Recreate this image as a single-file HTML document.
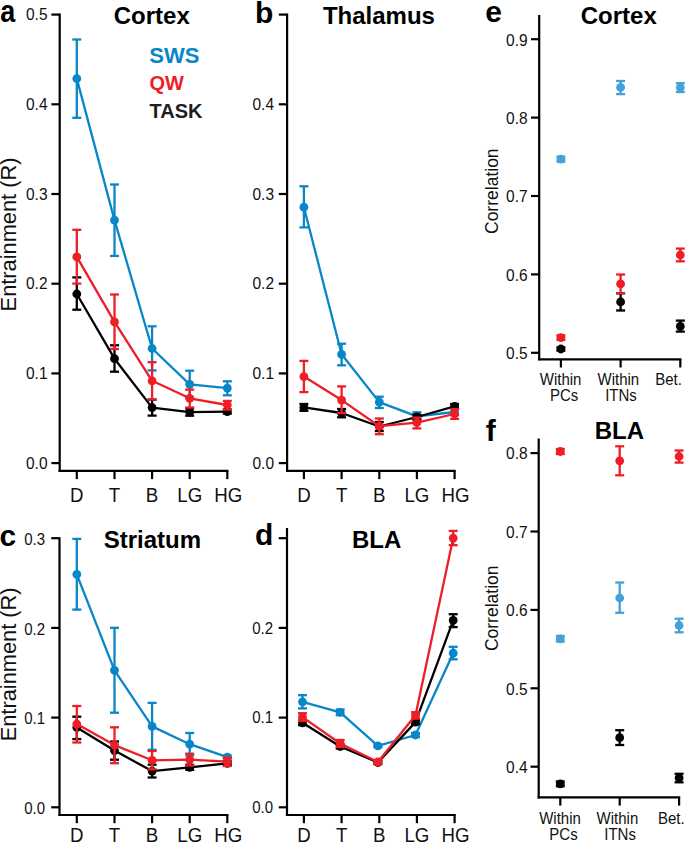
<!DOCTYPE html>
<html><head><meta charset="utf-8"><title>Figure</title>
<style>
html,body{margin:0;padding:0;background:#fff;}
body{width:685px;height:843px;overflow:hidden;}
svg{display:block;font-family:"Liberation Sans", sans-serif;}
</style></head>
<body>
<svg width="685" height="843" viewBox="0 0 685 843">
<rect x="0" y="0" width="685" height="843" fill="#fff"/>
<line x1="59.70" y1="13.60" x2="59.70" y2="471.90" stroke="#000000" stroke-width="2.2" stroke-linecap="butt"/>
<line x1="58.60" y1="470.90" x2="228.40" y2="470.90" stroke="#000000" stroke-width="2.2" stroke-linecap="butt"/>
<line x1="51.40" y1="463.10" x2="59.70" y2="463.10" stroke="#000000" stroke-width="2.2" stroke-linecap="butt"/>
<line x1="51.40" y1="373.40" x2="59.70" y2="373.40" stroke="#000000" stroke-width="2.2" stroke-linecap="butt"/>
<line x1="51.40" y1="283.70" x2="59.70" y2="283.70" stroke="#000000" stroke-width="2.2" stroke-linecap="butt"/>
<line x1="51.40" y1="194.00" x2="59.70" y2="194.00" stroke="#000000" stroke-width="2.2" stroke-linecap="butt"/>
<line x1="51.40" y1="104.30" x2="59.70" y2="104.30" stroke="#000000" stroke-width="2.2" stroke-linecap="butt"/>
<line x1="51.40" y1="14.60" x2="59.70" y2="14.60" stroke="#000000" stroke-width="2.2" stroke-linecap="butt"/>
<line x1="76.80" y1="470.90" x2="76.80" y2="479.10" stroke="#000000" stroke-width="2.2" stroke-linecap="butt"/>
<line x1="114.50" y1="470.90" x2="114.50" y2="479.10" stroke="#000000" stroke-width="2.2" stroke-linecap="butt"/>
<line x1="152.10" y1="470.90" x2="152.10" y2="479.10" stroke="#000000" stroke-width="2.2" stroke-linecap="butt"/>
<line x1="189.70" y1="470.90" x2="189.70" y2="479.10" stroke="#000000" stroke-width="2.2" stroke-linecap="butt"/>
<line x1="227.30" y1="470.90" x2="227.30" y2="479.10" stroke="#000000" stroke-width="2.2" stroke-linecap="butt"/>
<text transform="translate(47.50,468.70) scale(1.0,1.08)" font-size="15.5" font-weight="normal" text-anchor="end" fill="#111111" >0.0</text>
<text transform="translate(47.50,379.00) scale(1.0,1.08)" font-size="15.5" font-weight="normal" text-anchor="end" fill="#111111" >0.1</text>
<text transform="translate(47.50,289.30) scale(1.0,1.08)" font-size="15.5" font-weight="normal" text-anchor="end" fill="#111111" >0.2</text>
<text transform="translate(47.50,199.60) scale(1.0,1.08)" font-size="15.5" font-weight="normal" text-anchor="end" fill="#111111" >0.3</text>
<text transform="translate(47.50,109.90) scale(1.0,1.08)" font-size="15.5" font-weight="normal" text-anchor="end" fill="#111111" >0.4</text>
<text transform="translate(47.50,20.20) scale(1.0,1.08)" font-size="15.5" font-weight="normal" text-anchor="end" fill="#111111" >0.5</text>
<text transform="translate(76.80,502.30) scale(1.0,1.07)" font-size="18.7" font-weight="normal" text-anchor="middle" fill="#111111" >D</text>
<text transform="translate(114.50,502.30) scale(1.0,1.07)" font-size="18.7" font-weight="normal" text-anchor="middle" fill="#111111" >T</text>
<text transform="translate(152.10,502.30) scale(1.0,1.07)" font-size="18.7" font-weight="normal" text-anchor="middle" fill="#111111" >B</text>
<text transform="translate(189.70,502.30) scale(1.0,1.07)" font-size="18.7" font-weight="normal" text-anchor="middle" fill="#111111" >LG</text>
<text transform="translate(228.20,502.30) scale(1.0,1.07)" font-size="18.7" font-weight="normal" text-anchor="middle" fill="#111111" >HG</text>
<line x1="287.10" y1="13.60" x2="287.10" y2="471.90" stroke="#000000" stroke-width="2.2" stroke-linecap="butt"/>
<line x1="286.00" y1="470.90" x2="455.70" y2="470.90" stroke="#000000" stroke-width="2.2" stroke-linecap="butt"/>
<line x1="278.80" y1="463.10" x2="287.10" y2="463.10" stroke="#000000" stroke-width="2.2" stroke-linecap="butt"/>
<line x1="278.80" y1="373.40" x2="287.10" y2="373.40" stroke="#000000" stroke-width="2.2" stroke-linecap="butt"/>
<line x1="278.80" y1="283.70" x2="287.10" y2="283.70" stroke="#000000" stroke-width="2.2" stroke-linecap="butt"/>
<line x1="278.80" y1="194.00" x2="287.10" y2="194.00" stroke="#000000" stroke-width="2.2" stroke-linecap="butt"/>
<line x1="278.80" y1="104.30" x2="287.10" y2="104.30" stroke="#000000" stroke-width="2.2" stroke-linecap="butt"/>
<line x1="278.80" y1="14.60" x2="287.10" y2="14.60" stroke="#000000" stroke-width="2.2" stroke-linecap="butt"/>
<line x1="303.90" y1="470.90" x2="303.90" y2="479.10" stroke="#000000" stroke-width="2.2" stroke-linecap="butt"/>
<line x1="341.60" y1="470.90" x2="341.60" y2="479.10" stroke="#000000" stroke-width="2.2" stroke-linecap="butt"/>
<line x1="379.30" y1="470.90" x2="379.30" y2="479.10" stroke="#000000" stroke-width="2.2" stroke-linecap="butt"/>
<line x1="416.90" y1="470.90" x2="416.90" y2="479.10" stroke="#000000" stroke-width="2.2" stroke-linecap="butt"/>
<line x1="454.60" y1="470.90" x2="454.60" y2="479.10" stroke="#000000" stroke-width="2.2" stroke-linecap="butt"/>
<text transform="translate(274.00,468.70) scale(1.0,1.08)" font-size="15.5" font-weight="normal" text-anchor="end" fill="#111111" >0.0</text>
<text transform="translate(274.00,379.00) scale(1.0,1.08)" font-size="15.5" font-weight="normal" text-anchor="end" fill="#111111" >0.1</text>
<text transform="translate(274.00,289.30) scale(1.0,1.08)" font-size="15.5" font-weight="normal" text-anchor="end" fill="#111111" >0.2</text>
<text transform="translate(274.00,199.60) scale(1.0,1.08)" font-size="15.5" font-weight="normal" text-anchor="end" fill="#111111" >0.3</text>
<text transform="translate(274.00,109.90) scale(1.0,1.08)" font-size="15.5" font-weight="normal" text-anchor="end" fill="#111111" >0.4</text>
<text transform="translate(303.90,502.30) scale(1.0,1.07)" font-size="18.7" font-weight="normal" text-anchor="middle" fill="#111111" >D</text>
<text transform="translate(341.60,502.30) scale(1.0,1.07)" font-size="18.7" font-weight="normal" text-anchor="middle" fill="#111111" >T</text>
<text transform="translate(379.30,502.30) scale(1.0,1.07)" font-size="18.7" font-weight="normal" text-anchor="middle" fill="#111111" >B</text>
<text transform="translate(416.90,502.30) scale(1.0,1.07)" font-size="18.7" font-weight="normal" text-anchor="middle" fill="#111111" >LG</text>
<text transform="translate(455.50,502.30) scale(1.0,1.07)" font-size="18.7" font-weight="normal" text-anchor="middle" fill="#111111" >HG</text>
<line x1="59.50" y1="537.20" x2="59.50" y2="816.00" stroke="#000000" stroke-width="2.2" stroke-linecap="butt"/>
<line x1="58.40" y1="815.00" x2="228.40" y2="815.00" stroke="#000000" stroke-width="2.2" stroke-linecap="butt"/>
<line x1="51.20" y1="807.30" x2="59.50" y2="807.30" stroke="#000000" stroke-width="2.2" stroke-linecap="butt"/>
<line x1="51.20" y1="717.60" x2="59.50" y2="717.60" stroke="#000000" stroke-width="2.2" stroke-linecap="butt"/>
<line x1="51.20" y1="627.90" x2="59.50" y2="627.90" stroke="#000000" stroke-width="2.2" stroke-linecap="butt"/>
<line x1="51.20" y1="538.20" x2="59.50" y2="538.20" stroke="#000000" stroke-width="2.2" stroke-linecap="butt"/>
<line x1="76.80" y1="815.00" x2="76.80" y2="823.20" stroke="#000000" stroke-width="2.2" stroke-linecap="butt"/>
<line x1="114.50" y1="815.00" x2="114.50" y2="823.20" stroke="#000000" stroke-width="2.2" stroke-linecap="butt"/>
<line x1="152.10" y1="815.00" x2="152.10" y2="823.20" stroke="#000000" stroke-width="2.2" stroke-linecap="butt"/>
<line x1="189.70" y1="815.00" x2="189.70" y2="823.20" stroke="#000000" stroke-width="2.2" stroke-linecap="butt"/>
<line x1="227.30" y1="815.00" x2="227.30" y2="823.20" stroke="#000000" stroke-width="2.2" stroke-linecap="butt"/>
<text transform="translate(45.00,813.90) scale(1.0,1.08)" font-size="15.0" font-weight="normal" text-anchor="end" fill="#111111" >0.0</text>
<text transform="translate(45.00,724.20) scale(1.0,1.08)" font-size="15.0" font-weight="normal" text-anchor="end" fill="#111111" >0.1</text>
<text transform="translate(45.00,634.50) scale(1.0,1.08)" font-size="15.0" font-weight="normal" text-anchor="end" fill="#111111" >0.2</text>
<text transform="translate(45.00,544.80) scale(1.0,1.08)" font-size="15.0" font-weight="normal" text-anchor="end" fill="#111111" >0.3</text>
<text transform="translate(76.80,842.20) scale(1.0,1.07)" font-size="18.7" font-weight="normal" text-anchor="middle" fill="#111111" >D</text>
<text transform="translate(114.50,842.20) scale(1.0,1.07)" font-size="18.7" font-weight="normal" text-anchor="middle" fill="#111111" >T</text>
<text transform="translate(152.10,842.20) scale(1.0,1.07)" font-size="18.7" font-weight="normal" text-anchor="middle" fill="#111111" >B</text>
<text transform="translate(189.70,842.20) scale(1.0,1.07)" font-size="18.7" font-weight="normal" text-anchor="middle" fill="#111111" >LG</text>
<text transform="translate(228.20,842.20) scale(1.0,1.07)" font-size="18.7" font-weight="normal" text-anchor="middle" fill="#111111" >HG</text>
<line x1="287.00" y1="528.00" x2="287.00" y2="816.00" stroke="#000000" stroke-width="2.2" stroke-linecap="butt"/>
<line x1="285.90" y1="815.00" x2="455.70" y2="815.00" stroke="#000000" stroke-width="2.2" stroke-linecap="butt"/>
<line x1="278.70" y1="807.30" x2="287.00" y2="807.30" stroke="#000000" stroke-width="2.2" stroke-linecap="butt"/>
<line x1="278.70" y1="717.60" x2="287.00" y2="717.60" stroke="#000000" stroke-width="2.2" stroke-linecap="butt"/>
<line x1="278.70" y1="627.90" x2="287.00" y2="627.90" stroke="#000000" stroke-width="2.2" stroke-linecap="butt"/>
<line x1="278.70" y1="538.20" x2="287.00" y2="538.20" stroke="#000000" stroke-width="2.2" stroke-linecap="butt"/>
<line x1="303.90" y1="815.00" x2="303.90" y2="823.20" stroke="#000000" stroke-width="2.2" stroke-linecap="butt"/>
<line x1="341.60" y1="815.00" x2="341.60" y2="823.20" stroke="#000000" stroke-width="2.2" stroke-linecap="butt"/>
<line x1="379.30" y1="815.00" x2="379.30" y2="823.20" stroke="#000000" stroke-width="2.2" stroke-linecap="butt"/>
<line x1="416.90" y1="815.00" x2="416.90" y2="823.20" stroke="#000000" stroke-width="2.2" stroke-linecap="butt"/>
<line x1="454.60" y1="815.00" x2="454.60" y2="823.20" stroke="#000000" stroke-width="2.2" stroke-linecap="butt"/>
<text transform="translate(273.00,812.90) scale(1.0,1.08)" font-size="15.0" font-weight="normal" text-anchor="end" fill="#111111" >0.0</text>
<text transform="translate(273.00,723.20) scale(1.0,1.08)" font-size="15.0" font-weight="normal" text-anchor="end" fill="#111111" >0.1</text>
<text transform="translate(273.00,633.50) scale(1.0,1.08)" font-size="15.0" font-weight="normal" text-anchor="end" fill="#111111" >0.2</text>
<text transform="translate(303.90,842.20) scale(1.0,1.07)" font-size="18.7" font-weight="normal" text-anchor="middle" fill="#111111" >D</text>
<text transform="translate(341.60,842.20) scale(1.0,1.07)" font-size="18.7" font-weight="normal" text-anchor="middle" fill="#111111" >T</text>
<text transform="translate(379.30,842.20) scale(1.0,1.07)" font-size="18.7" font-weight="normal" text-anchor="middle" fill="#111111" >B</text>
<text transform="translate(416.90,842.20) scale(1.0,1.07)" font-size="18.7" font-weight="normal" text-anchor="middle" fill="#111111" >LG</text>
<text transform="translate(455.50,842.20) scale(1.0,1.07)" font-size="18.7" font-weight="normal" text-anchor="middle" fill="#111111" >HG</text>
<text transform="translate(16.2,311.4) rotate(-90)" font-size="21.8" fill="#111111">Entrainment (R)</text>
<text transform="translate(16.2,741.3) rotate(-90)" font-size="21.8" fill="#111111">Entrainment (R)</text>
<text x="151.80" y="24.00" font-size="24" font-weight="bold" text-anchor="middle" fill="#000000" >Cortex</text>
<text x="378.90" y="24.00" font-size="24" font-weight="bold" text-anchor="middle" fill="#000000" >Thalamus</text>
<text x="152.40" y="548.00" font-size="24" font-weight="bold" text-anchor="middle" fill="#000000" >Striatum</text>
<text x="376.60" y="547.80" font-size="24" font-weight="bold" text-anchor="middle" fill="#000000" >BLA</text>
<text x="618.80" y="24.00" font-size="24" font-weight="bold" text-anchor="middle" fill="#000000" >Cortex</text>
<text x="619.40" y="439.30" font-size="24" font-weight="bold" text-anchor="middle" fill="#000000" >BLA</text>
<text transform="translate(0.20,22.40) scale(0.9,1.04)" font-size="30" font-weight="bold" text-anchor="start" fill="#000000" >a</text>
<text x="255.00" y="22.70" font-size="30" font-weight="bold" text-anchor="start" fill="#000000" >b</text>
<text x="-0.40" y="545.80" font-size="30" font-weight="bold" text-anchor="start" fill="#000000" >c</text>
<text x="255.00" y="545.10" font-size="30" font-weight="bold" text-anchor="start" fill="#000000" >d</text>
<text x="485.30" y="22.40" font-size="30" font-weight="bold" text-anchor="start" fill="#000000" >e</text>
<text x="485.80" y="440.80" font-size="30" font-weight="bold" text-anchor="start" fill="#000000" >f</text>
<text x="149.30" y="63.20" font-size="22" font-weight="bold" text-anchor="start" fill="#0886c8" >SWS</text>
<text x="149.50" y="90.30" font-size="20" font-weight="bold" text-anchor="start" fill="#ed1e26" >QW</text>
<text x="149.50" y="117.60" font-size="20" font-weight="bold" text-anchor="start" fill="#1e1e1e" >TASK</text>
<path d="M76.80,78.60 L114.50,220.10 L152.10,348.50 L189.70,384.30 L227.30,388.10" fill="none" stroke="#0886c8" stroke-width="2.3" stroke-linejoin="round"/>
<line x1="76.80" y1="39.50" x2="76.80" y2="117.80" stroke="#0886c8" stroke-width="2.3" stroke-linecap="butt"/>
<line x1="72.30" y1="39.50" x2="81.30" y2="39.50" stroke="#0886c8" stroke-width="2.3" stroke-linecap="butt"/>
<line x1="72.30" y1="117.80" x2="81.30" y2="117.80" stroke="#0886c8" stroke-width="2.3" stroke-linecap="butt"/>
<circle cx="76.80" cy="78.60" r="4.4" fill="#0886c8"/>
<line x1="114.50" y1="184.50" x2="114.50" y2="255.90" stroke="#0886c8" stroke-width="2.3" stroke-linecap="butt"/>
<line x1="110.00" y1="184.50" x2="119.00" y2="184.50" stroke="#0886c8" stroke-width="2.3" stroke-linecap="butt"/>
<line x1="110.00" y1="255.90" x2="119.00" y2="255.90" stroke="#0886c8" stroke-width="2.3" stroke-linecap="butt"/>
<circle cx="114.50" cy="220.10" r="4.4" fill="#0886c8"/>
<line x1="152.10" y1="326.30" x2="152.10" y2="370.40" stroke="#0886c8" stroke-width="2.3" stroke-linecap="butt"/>
<line x1="147.60" y1="326.30" x2="156.60" y2="326.30" stroke="#0886c8" stroke-width="2.3" stroke-linecap="butt"/>
<line x1="147.60" y1="370.40" x2="156.60" y2="370.40" stroke="#0886c8" stroke-width="2.3" stroke-linecap="butt"/>
<circle cx="152.10" cy="348.50" r="4.4" fill="#0886c8"/>
<line x1="189.70" y1="370.70" x2="189.70" y2="397.90" stroke="#0886c8" stroke-width="2.3" stroke-linecap="butt"/>
<line x1="185.20" y1="370.70" x2="194.20" y2="370.70" stroke="#0886c8" stroke-width="2.3" stroke-linecap="butt"/>
<line x1="185.20" y1="397.90" x2="194.20" y2="397.90" stroke="#0886c8" stroke-width="2.3" stroke-linecap="butt"/>
<circle cx="189.70" cy="384.30" r="4.4" fill="#0886c8"/>
<line x1="227.30" y1="381.30" x2="227.30" y2="395.30" stroke="#0886c8" stroke-width="2.3" stroke-linecap="butt"/>
<line x1="222.80" y1="381.30" x2="231.80" y2="381.30" stroke="#0886c8" stroke-width="2.3" stroke-linecap="butt"/>
<line x1="222.80" y1="395.30" x2="231.80" y2="395.30" stroke="#0886c8" stroke-width="2.3" stroke-linecap="butt"/>
<circle cx="227.30" cy="388.10" r="4.4" fill="#0886c8"/>
<path d="M76.80,294.00 L114.50,358.70 L152.10,407.60 L189.70,412.10 L227.30,411.60" fill="none" stroke="#000000" stroke-width="2.3" stroke-linejoin="round"/>
<line x1="76.80" y1="277.40" x2="76.80" y2="309.70" stroke="#000000" stroke-width="2.3" stroke-linecap="butt"/>
<line x1="72.30" y1="277.40" x2="81.30" y2="277.40" stroke="#000000" stroke-width="2.3" stroke-linecap="butt"/>
<line x1="72.30" y1="309.70" x2="81.30" y2="309.70" stroke="#000000" stroke-width="2.3" stroke-linecap="butt"/>
<circle cx="76.80" cy="294.00" r="4.4" fill="#000000"/>
<line x1="114.50" y1="345.30" x2="114.50" y2="371.70" stroke="#000000" stroke-width="2.3" stroke-linecap="butt"/>
<line x1="110.00" y1="345.30" x2="119.00" y2="345.30" stroke="#000000" stroke-width="2.3" stroke-linecap="butt"/>
<line x1="110.00" y1="371.70" x2="119.00" y2="371.70" stroke="#000000" stroke-width="2.3" stroke-linecap="butt"/>
<circle cx="114.50" cy="358.70" r="4.4" fill="#000000"/>
<line x1="152.10" y1="399.60" x2="152.10" y2="415.60" stroke="#000000" stroke-width="2.3" stroke-linecap="butt"/>
<line x1="147.60" y1="399.60" x2="156.60" y2="399.60" stroke="#000000" stroke-width="2.3" stroke-linecap="butt"/>
<line x1="147.60" y1="415.60" x2="156.60" y2="415.60" stroke="#000000" stroke-width="2.3" stroke-linecap="butt"/>
<circle cx="152.10" cy="407.60" r="4.4" fill="#000000"/>
<line x1="189.70" y1="408.50" x2="189.70" y2="415.70" stroke="#000000" stroke-width="2.3" stroke-linecap="butt"/>
<line x1="185.20" y1="408.50" x2="194.20" y2="408.50" stroke="#000000" stroke-width="2.3" stroke-linecap="butt"/>
<line x1="185.20" y1="415.70" x2="194.20" y2="415.70" stroke="#000000" stroke-width="2.3" stroke-linecap="butt"/>
<circle cx="189.70" cy="412.10" r="4.4" fill="#000000"/>
<line x1="227.30" y1="409.60" x2="227.30" y2="413.60" stroke="#000000" stroke-width="2.3" stroke-linecap="butt"/>
<line x1="222.80" y1="409.60" x2="231.80" y2="409.60" stroke="#000000" stroke-width="2.3" stroke-linecap="butt"/>
<line x1="222.80" y1="413.60" x2="231.80" y2="413.60" stroke="#000000" stroke-width="2.3" stroke-linecap="butt"/>
<circle cx="227.30" cy="411.60" r="4.4" fill="#000000"/>
<path d="M76.80,256.90 L114.50,321.90 L152.10,380.80 L189.70,398.30 L227.30,405.00" fill="none" stroke="#ed1e26" stroke-width="2.3" stroke-linejoin="round"/>
<line x1="76.80" y1="229.80" x2="76.80" y2="283.60" stroke="#ed1e26" stroke-width="2.3" stroke-linecap="butt"/>
<line x1="72.30" y1="229.80" x2="81.30" y2="229.80" stroke="#ed1e26" stroke-width="2.3" stroke-linecap="butt"/>
<line x1="72.30" y1="283.60" x2="81.30" y2="283.60" stroke="#ed1e26" stroke-width="2.3" stroke-linecap="butt"/>
<circle cx="76.80" cy="256.90" r="4.4" fill="#ed1e26"/>
<line x1="114.50" y1="294.50" x2="114.50" y2="349.00" stroke="#ed1e26" stroke-width="2.3" stroke-linecap="butt"/>
<line x1="110.00" y1="294.50" x2="119.00" y2="294.50" stroke="#ed1e26" stroke-width="2.3" stroke-linecap="butt"/>
<line x1="110.00" y1="349.00" x2="119.00" y2="349.00" stroke="#ed1e26" stroke-width="2.3" stroke-linecap="butt"/>
<circle cx="114.50" cy="321.90" r="4.4" fill="#ed1e26"/>
<line x1="152.10" y1="362.20" x2="152.10" y2="399.50" stroke="#ed1e26" stroke-width="2.3" stroke-linecap="butt"/>
<line x1="147.60" y1="362.20" x2="156.60" y2="362.20" stroke="#ed1e26" stroke-width="2.3" stroke-linecap="butt"/>
<line x1="147.60" y1="399.50" x2="156.60" y2="399.50" stroke="#ed1e26" stroke-width="2.3" stroke-linecap="butt"/>
<circle cx="152.10" cy="380.80" r="4.4" fill="#ed1e26"/>
<line x1="189.70" y1="389.60" x2="189.70" y2="407.50" stroke="#ed1e26" stroke-width="2.3" stroke-linecap="butt"/>
<line x1="185.20" y1="389.60" x2="194.20" y2="389.60" stroke="#ed1e26" stroke-width="2.3" stroke-linecap="butt"/>
<line x1="185.20" y1="407.50" x2="194.20" y2="407.50" stroke="#ed1e26" stroke-width="2.3" stroke-linecap="butt"/>
<circle cx="189.70" cy="398.30" r="4.4" fill="#ed1e26"/>
<line x1="227.30" y1="400.90" x2="227.30" y2="409.60" stroke="#ed1e26" stroke-width="2.3" stroke-linecap="butt"/>
<line x1="222.80" y1="400.90" x2="231.80" y2="400.90" stroke="#ed1e26" stroke-width="2.3" stroke-linecap="butt"/>
<line x1="222.80" y1="409.60" x2="231.80" y2="409.60" stroke="#ed1e26" stroke-width="2.3" stroke-linecap="butt"/>
<circle cx="227.30" cy="405.00" r="4.4" fill="#ed1e26"/>
<path d="M303.90,207.20 L341.60,354.30 L379.30,402.10 L416.90,416.30 L454.60,412.00" fill="none" stroke="#0886c8" stroke-width="2.3" stroke-linejoin="round"/>
<line x1="303.90" y1="186.30" x2="303.90" y2="227.40" stroke="#0886c8" stroke-width="2.3" stroke-linecap="butt"/>
<line x1="299.40" y1="186.30" x2="308.40" y2="186.30" stroke="#0886c8" stroke-width="2.3" stroke-linecap="butt"/>
<line x1="299.40" y1="227.40" x2="308.40" y2="227.40" stroke="#0886c8" stroke-width="2.3" stroke-linecap="butt"/>
<circle cx="303.90" cy="207.20" r="4.4" fill="#0886c8"/>
<line x1="341.60" y1="343.70" x2="341.60" y2="365.30" stroke="#0886c8" stroke-width="2.3" stroke-linecap="butt"/>
<line x1="337.10" y1="343.70" x2="346.10" y2="343.70" stroke="#0886c8" stroke-width="2.3" stroke-linecap="butt"/>
<line x1="337.10" y1="365.30" x2="346.10" y2="365.30" stroke="#0886c8" stroke-width="2.3" stroke-linecap="butt"/>
<circle cx="341.60" cy="354.30" r="4.4" fill="#0886c8"/>
<line x1="379.30" y1="396.70" x2="379.30" y2="408.00" stroke="#0886c8" stroke-width="2.3" stroke-linecap="butt"/>
<line x1="374.80" y1="396.70" x2="383.80" y2="396.70" stroke="#0886c8" stroke-width="2.3" stroke-linecap="butt"/>
<line x1="374.80" y1="408.00" x2="383.80" y2="408.00" stroke="#0886c8" stroke-width="2.3" stroke-linecap="butt"/>
<circle cx="379.30" cy="402.10" r="4.4" fill="#0886c8"/>
<line x1="416.90" y1="412.30" x2="416.90" y2="420.30" stroke="#0886c8" stroke-width="2.3" stroke-linecap="butt"/>
<line x1="412.40" y1="412.30" x2="421.40" y2="412.30" stroke="#0886c8" stroke-width="2.3" stroke-linecap="butt"/>
<line x1="412.40" y1="420.30" x2="421.40" y2="420.30" stroke="#0886c8" stroke-width="2.3" stroke-linecap="butt"/>
<circle cx="416.90" cy="416.30" r="4.4" fill="#0886c8"/>
<line x1="454.60" y1="409.00" x2="454.60" y2="415.00" stroke="#0886c8" stroke-width="2.3" stroke-linecap="butt"/>
<line x1="450.10" y1="409.00" x2="459.10" y2="409.00" stroke="#0886c8" stroke-width="2.3" stroke-linecap="butt"/>
<line x1="450.10" y1="415.00" x2="459.10" y2="415.00" stroke="#0886c8" stroke-width="2.3" stroke-linecap="butt"/>
<circle cx="454.60" cy="412.00" r="4.4" fill="#0886c8"/>
<path d="M303.90,407.40 L341.60,413.00 L379.30,426.50 L416.90,417.00 L454.60,406.30" fill="none" stroke="#000000" stroke-width="2.3" stroke-linejoin="round"/>
<line x1="303.90" y1="404.00" x2="303.90" y2="410.80" stroke="#000000" stroke-width="2.3" stroke-linecap="butt"/>
<line x1="299.40" y1="404.00" x2="308.40" y2="404.00" stroke="#000000" stroke-width="2.3" stroke-linecap="butt"/>
<line x1="299.40" y1="410.80" x2="308.40" y2="410.80" stroke="#000000" stroke-width="2.3" stroke-linecap="butt"/>
<circle cx="303.90" cy="407.40" r="4.4" fill="#000000"/>
<line x1="341.60" y1="409.00" x2="341.60" y2="417.30" stroke="#000000" stroke-width="2.3" stroke-linecap="butt"/>
<line x1="337.10" y1="409.00" x2="346.10" y2="409.00" stroke="#000000" stroke-width="2.3" stroke-linecap="butt"/>
<line x1="337.10" y1="417.30" x2="346.10" y2="417.30" stroke="#000000" stroke-width="2.3" stroke-linecap="butt"/>
<circle cx="341.60" cy="413.00" r="4.4" fill="#000000"/>
<line x1="379.30" y1="422.00" x2="379.30" y2="431.00" stroke="#000000" stroke-width="2.3" stroke-linecap="butt"/>
<line x1="374.80" y1="422.00" x2="383.80" y2="422.00" stroke="#000000" stroke-width="2.3" stroke-linecap="butt"/>
<line x1="374.80" y1="431.00" x2="383.80" y2="431.00" stroke="#000000" stroke-width="2.3" stroke-linecap="butt"/>
<circle cx="379.30" cy="426.50" r="4.4" fill="#000000"/>
<line x1="416.90" y1="414.80" x2="416.90" y2="419.20" stroke="#000000" stroke-width="2.3" stroke-linecap="butt"/>
<line x1="412.40" y1="414.80" x2="421.40" y2="414.80" stroke="#000000" stroke-width="2.3" stroke-linecap="butt"/>
<line x1="412.40" y1="419.20" x2="421.40" y2="419.20" stroke="#000000" stroke-width="2.3" stroke-linecap="butt"/>
<circle cx="416.90" cy="417.00" r="4.4" fill="#000000"/>
<line x1="454.60" y1="404.00" x2="454.60" y2="408.60" stroke="#000000" stroke-width="2.3" stroke-linecap="butt"/>
<line x1="450.10" y1="404.00" x2="459.10" y2="404.00" stroke="#000000" stroke-width="2.3" stroke-linecap="butt"/>
<line x1="450.10" y1="408.60" x2="459.10" y2="408.60" stroke="#000000" stroke-width="2.3" stroke-linecap="butt"/>
<circle cx="454.60" cy="406.30" r="4.4" fill="#000000"/>
<path d="M303.90,376.60 L341.60,400.10 L379.30,426.20 L416.90,422.60 L454.60,414.00" fill="none" stroke="#ed1e26" stroke-width="2.3" stroke-linejoin="round"/>
<line x1="303.90" y1="360.90" x2="303.90" y2="392.10" stroke="#ed1e26" stroke-width="2.3" stroke-linecap="butt"/>
<line x1="299.40" y1="360.90" x2="308.40" y2="360.90" stroke="#ed1e26" stroke-width="2.3" stroke-linecap="butt"/>
<line x1="299.40" y1="392.10" x2="308.40" y2="392.10" stroke="#ed1e26" stroke-width="2.3" stroke-linecap="butt"/>
<circle cx="303.90" cy="376.60" r="4.4" fill="#ed1e26"/>
<line x1="341.60" y1="386.40" x2="341.60" y2="413.10" stroke="#ed1e26" stroke-width="2.3" stroke-linecap="butt"/>
<line x1="337.10" y1="386.40" x2="346.10" y2="386.40" stroke="#ed1e26" stroke-width="2.3" stroke-linecap="butt"/>
<line x1="337.10" y1="413.10" x2="346.10" y2="413.10" stroke="#ed1e26" stroke-width="2.3" stroke-linecap="butt"/>
<circle cx="341.60" cy="400.10" r="4.4" fill="#ed1e26"/>
<line x1="379.30" y1="418.50" x2="379.30" y2="434.20" stroke="#ed1e26" stroke-width="2.3" stroke-linecap="butt"/>
<line x1="374.80" y1="418.50" x2="383.80" y2="418.50" stroke="#ed1e26" stroke-width="2.3" stroke-linecap="butt"/>
<line x1="374.80" y1="434.20" x2="383.80" y2="434.20" stroke="#ed1e26" stroke-width="2.3" stroke-linecap="butt"/>
<circle cx="379.30" cy="426.20" r="4.4" fill="#ed1e26"/>
<line x1="416.90" y1="417.60" x2="416.90" y2="428.40" stroke="#ed1e26" stroke-width="2.3" stroke-linecap="butt"/>
<line x1="412.40" y1="417.60" x2="421.40" y2="417.60" stroke="#ed1e26" stroke-width="2.3" stroke-linecap="butt"/>
<line x1="412.40" y1="428.40" x2="421.40" y2="428.40" stroke="#ed1e26" stroke-width="2.3" stroke-linecap="butt"/>
<circle cx="416.90" cy="422.60" r="4.4" fill="#ed1e26"/>
<line x1="454.60" y1="409.10" x2="454.60" y2="418.90" stroke="#ed1e26" stroke-width="2.3" stroke-linecap="butt"/>
<line x1="450.10" y1="409.10" x2="459.10" y2="409.10" stroke="#ed1e26" stroke-width="2.3" stroke-linecap="butt"/>
<line x1="450.10" y1="418.90" x2="459.10" y2="418.90" stroke="#ed1e26" stroke-width="2.3" stroke-linecap="butt"/>
<circle cx="454.60" cy="414.00" r="4.4" fill="#ed1e26"/>
<path d="M76.80,574.30 L114.50,670.30 L152.10,726.40 L189.70,744.20 L227.30,757.10" fill="none" stroke="#0886c8" stroke-width="2.3" stroke-linejoin="round"/>
<line x1="76.80" y1="538.90" x2="76.80" y2="609.60" stroke="#0886c8" stroke-width="2.3" stroke-linecap="butt"/>
<line x1="72.30" y1="538.90" x2="81.30" y2="538.90" stroke="#0886c8" stroke-width="2.3" stroke-linecap="butt"/>
<line x1="72.30" y1="609.60" x2="81.30" y2="609.60" stroke="#0886c8" stroke-width="2.3" stroke-linecap="butt"/>
<circle cx="76.80" cy="574.30" r="4.4" fill="#0886c8"/>
<line x1="114.50" y1="627.80" x2="114.50" y2="712.70" stroke="#0886c8" stroke-width="2.3" stroke-linecap="butt"/>
<line x1="110.00" y1="627.80" x2="119.00" y2="627.80" stroke="#0886c8" stroke-width="2.3" stroke-linecap="butt"/>
<line x1="110.00" y1="712.70" x2="119.00" y2="712.70" stroke="#0886c8" stroke-width="2.3" stroke-linecap="butt"/>
<circle cx="114.50" cy="670.30" r="4.4" fill="#0886c8"/>
<line x1="152.10" y1="702.90" x2="152.10" y2="749.80" stroke="#0886c8" stroke-width="2.3" stroke-linecap="butt"/>
<line x1="147.60" y1="702.90" x2="156.60" y2="702.90" stroke="#0886c8" stroke-width="2.3" stroke-linecap="butt"/>
<line x1="147.60" y1="749.80" x2="156.60" y2="749.80" stroke="#0886c8" stroke-width="2.3" stroke-linecap="butt"/>
<circle cx="152.10" cy="726.40" r="4.4" fill="#0886c8"/>
<line x1="189.70" y1="733.00" x2="189.70" y2="755.40" stroke="#0886c8" stroke-width="2.3" stroke-linecap="butt"/>
<line x1="185.20" y1="733.00" x2="194.20" y2="733.00" stroke="#0886c8" stroke-width="2.3" stroke-linecap="butt"/>
<line x1="185.20" y1="755.40" x2="194.20" y2="755.40" stroke="#0886c8" stroke-width="2.3" stroke-linecap="butt"/>
<circle cx="189.70" cy="744.20" r="4.4" fill="#0886c8"/>
<line x1="227.30" y1="755.60" x2="227.30" y2="758.60" stroke="#0886c8" stroke-width="2.3" stroke-linecap="butt"/>
<line x1="222.80" y1="755.60" x2="231.80" y2="755.60" stroke="#0886c8" stroke-width="2.3" stroke-linecap="butt"/>
<line x1="222.80" y1="758.60" x2="231.80" y2="758.60" stroke="#0886c8" stroke-width="2.3" stroke-linecap="butt"/>
<circle cx="227.30" cy="757.10" r="4.4" fill="#0886c8"/>
<path d="M76.80,727.50 L114.50,750.60 L152.10,771.10 L189.70,767.30 L227.30,763.30" fill="none" stroke="#000000" stroke-width="2.3" stroke-linejoin="round"/>
<line x1="76.80" y1="716.70" x2="76.80" y2="739.10" stroke="#000000" stroke-width="2.3" stroke-linecap="butt"/>
<line x1="72.30" y1="716.70" x2="81.30" y2="716.70" stroke="#000000" stroke-width="2.3" stroke-linecap="butt"/>
<line x1="72.30" y1="739.10" x2="81.30" y2="739.10" stroke="#000000" stroke-width="2.3" stroke-linecap="butt"/>
<circle cx="76.80" cy="727.50" r="4.4" fill="#000000"/>
<line x1="114.50" y1="741.50" x2="114.50" y2="759.70" stroke="#000000" stroke-width="2.3" stroke-linecap="butt"/>
<line x1="110.00" y1="741.50" x2="119.00" y2="741.50" stroke="#000000" stroke-width="2.3" stroke-linecap="butt"/>
<line x1="110.00" y1="759.70" x2="119.00" y2="759.70" stroke="#000000" stroke-width="2.3" stroke-linecap="butt"/>
<circle cx="114.50" cy="750.60" r="4.4" fill="#000000"/>
<line x1="152.10" y1="764.70" x2="152.10" y2="777.50" stroke="#000000" stroke-width="2.3" stroke-linecap="butt"/>
<line x1="147.60" y1="764.70" x2="156.60" y2="764.70" stroke="#000000" stroke-width="2.3" stroke-linecap="butt"/>
<line x1="147.60" y1="777.50" x2="156.60" y2="777.50" stroke="#000000" stroke-width="2.3" stroke-linecap="butt"/>
<circle cx="152.10" cy="771.10" r="4.4" fill="#000000"/>
<line x1="189.70" y1="764.80" x2="189.70" y2="769.80" stroke="#000000" stroke-width="2.3" stroke-linecap="butt"/>
<line x1="185.20" y1="764.80" x2="194.20" y2="764.80" stroke="#000000" stroke-width="2.3" stroke-linecap="butt"/>
<line x1="185.20" y1="769.80" x2="194.20" y2="769.80" stroke="#000000" stroke-width="2.3" stroke-linecap="butt"/>
<circle cx="189.70" cy="767.30" r="4.4" fill="#000000"/>
<line x1="227.30" y1="761.30" x2="227.30" y2="765.30" stroke="#000000" stroke-width="2.3" stroke-linecap="butt"/>
<line x1="222.80" y1="761.30" x2="231.80" y2="761.30" stroke="#000000" stroke-width="2.3" stroke-linecap="butt"/>
<line x1="222.80" y1="765.30" x2="231.80" y2="765.30" stroke="#000000" stroke-width="2.3" stroke-linecap="butt"/>
<circle cx="227.30" cy="763.30" r="4.4" fill="#000000"/>
<path d="M76.80,724.10 L114.50,745.10 L152.10,760.30 L189.70,759.60 L227.30,761.70" fill="none" stroke="#ed1e26" stroke-width="2.3" stroke-linejoin="round"/>
<line x1="76.80" y1="706.00" x2="76.80" y2="742.50" stroke="#ed1e26" stroke-width="2.3" stroke-linecap="butt"/>
<line x1="72.30" y1="706.00" x2="81.30" y2="706.00" stroke="#ed1e26" stroke-width="2.3" stroke-linecap="butt"/>
<line x1="72.30" y1="742.50" x2="81.30" y2="742.50" stroke="#ed1e26" stroke-width="2.3" stroke-linecap="butt"/>
<circle cx="76.80" cy="724.10" r="4.4" fill="#ed1e26"/>
<line x1="114.50" y1="727.30" x2="114.50" y2="763.20" stroke="#ed1e26" stroke-width="2.3" stroke-linecap="butt"/>
<line x1="110.00" y1="727.30" x2="119.00" y2="727.30" stroke="#ed1e26" stroke-width="2.3" stroke-linecap="butt"/>
<line x1="110.00" y1="763.20" x2="119.00" y2="763.20" stroke="#ed1e26" stroke-width="2.3" stroke-linecap="butt"/>
<circle cx="114.50" cy="745.10" r="4.4" fill="#ed1e26"/>
<line x1="152.10" y1="751.00" x2="152.10" y2="769.30" stroke="#ed1e26" stroke-width="2.3" stroke-linecap="butt"/>
<line x1="147.60" y1="751.00" x2="156.60" y2="751.00" stroke="#ed1e26" stroke-width="2.3" stroke-linecap="butt"/>
<line x1="147.60" y1="769.30" x2="156.60" y2="769.30" stroke="#ed1e26" stroke-width="2.3" stroke-linecap="butt"/>
<circle cx="152.10" cy="760.30" r="4.4" fill="#ed1e26"/>
<line x1="189.70" y1="753.70" x2="189.70" y2="765.50" stroke="#ed1e26" stroke-width="2.3" stroke-linecap="butt"/>
<line x1="185.20" y1="753.70" x2="194.20" y2="753.70" stroke="#ed1e26" stroke-width="2.3" stroke-linecap="butt"/>
<line x1="185.20" y1="765.50" x2="194.20" y2="765.50" stroke="#ed1e26" stroke-width="2.3" stroke-linecap="butt"/>
<circle cx="189.70" cy="759.60" r="4.4" fill="#ed1e26"/>
<line x1="227.30" y1="757.50" x2="227.30" y2="766.00" stroke="#ed1e26" stroke-width="2.3" stroke-linecap="butt"/>
<line x1="222.80" y1="757.50" x2="231.80" y2="757.50" stroke="#ed1e26" stroke-width="2.3" stroke-linecap="butt"/>
<line x1="222.80" y1="766.00" x2="231.80" y2="766.00" stroke="#ed1e26" stroke-width="2.3" stroke-linecap="butt"/>
<circle cx="227.30" cy="761.70" r="4.4" fill="#ed1e26"/>
<path d="M302.50,701.80 L340.20,712.30 L377.90,745.90 L415.50,735.00 L453.20,653.20" fill="none" stroke="#0886c8" stroke-width="2.3" stroke-linejoin="round"/>
<line x1="302.50" y1="695.20" x2="302.50" y2="708.40" stroke="#0886c8" stroke-width="2.3" stroke-linecap="butt"/>
<line x1="298.00" y1="695.20" x2="307.00" y2="695.20" stroke="#0886c8" stroke-width="2.3" stroke-linecap="butt"/>
<line x1="298.00" y1="708.40" x2="307.00" y2="708.40" stroke="#0886c8" stroke-width="2.3" stroke-linecap="butt"/>
<circle cx="302.50" cy="701.80" r="4.4" fill="#0886c8"/>
<line x1="340.20" y1="709.50" x2="340.20" y2="715.10" stroke="#0886c8" stroke-width="2.3" stroke-linecap="butt"/>
<line x1="335.70" y1="709.50" x2="344.70" y2="709.50" stroke="#0886c8" stroke-width="2.3" stroke-linecap="butt"/>
<line x1="335.70" y1="715.10" x2="344.70" y2="715.10" stroke="#0886c8" stroke-width="2.3" stroke-linecap="butt"/>
<circle cx="340.20" cy="712.30" r="4.4" fill="#0886c8"/>
<line x1="377.90" y1="744.60" x2="377.90" y2="747.20" stroke="#0886c8" stroke-width="2.3" stroke-linecap="butt"/>
<line x1="373.40" y1="744.60" x2="382.40" y2="744.60" stroke="#0886c8" stroke-width="2.3" stroke-linecap="butt"/>
<line x1="373.40" y1="747.20" x2="382.40" y2="747.20" stroke="#0886c8" stroke-width="2.3" stroke-linecap="butt"/>
<circle cx="377.90" cy="745.90" r="4.4" fill="#0886c8"/>
<line x1="415.50" y1="733.00" x2="415.50" y2="737.00" stroke="#0886c8" stroke-width="2.3" stroke-linecap="butt"/>
<line x1="411.00" y1="733.00" x2="420.00" y2="733.00" stroke="#0886c8" stroke-width="2.3" stroke-linecap="butt"/>
<line x1="411.00" y1="737.00" x2="420.00" y2="737.00" stroke="#0886c8" stroke-width="2.3" stroke-linecap="butt"/>
<circle cx="415.50" cy="735.00" r="4.4" fill="#0886c8"/>
<line x1="453.20" y1="646.80" x2="453.20" y2="659.30" stroke="#0886c8" stroke-width="2.3" stroke-linecap="butt"/>
<line x1="448.70" y1="646.80" x2="457.70" y2="646.80" stroke="#0886c8" stroke-width="2.3" stroke-linecap="butt"/>
<line x1="448.70" y1="659.30" x2="457.70" y2="659.30" stroke="#0886c8" stroke-width="2.3" stroke-linecap="butt"/>
<circle cx="453.20" cy="653.20" r="4.4" fill="#0886c8"/>
<path d="M302.50,722.80 L340.20,746.50 L377.90,762.50 L415.50,722.10 L453.20,620.40" fill="none" stroke="#000000" stroke-width="2.3" stroke-linejoin="round"/>
<line x1="302.50" y1="720.50" x2="302.50" y2="725.10" stroke="#000000" stroke-width="2.3" stroke-linecap="butt"/>
<line x1="298.00" y1="720.50" x2="307.00" y2="720.50" stroke="#000000" stroke-width="2.3" stroke-linecap="butt"/>
<line x1="298.00" y1="725.10" x2="307.00" y2="725.10" stroke="#000000" stroke-width="2.3" stroke-linecap="butt"/>
<circle cx="302.50" cy="722.80" r="4.4" fill="#000000"/>
<line x1="340.20" y1="744.50" x2="340.20" y2="748.50" stroke="#000000" stroke-width="2.3" stroke-linecap="butt"/>
<line x1="335.70" y1="744.50" x2="344.70" y2="744.50" stroke="#000000" stroke-width="2.3" stroke-linecap="butt"/>
<line x1="335.70" y1="748.50" x2="344.70" y2="748.50" stroke="#000000" stroke-width="2.3" stroke-linecap="butt"/>
<circle cx="340.20" cy="746.50" r="4.4" fill="#000000"/>
<line x1="377.90" y1="761.00" x2="377.90" y2="764.00" stroke="#000000" stroke-width="2.3" stroke-linecap="butt"/>
<line x1="373.40" y1="761.00" x2="382.40" y2="761.00" stroke="#000000" stroke-width="2.3" stroke-linecap="butt"/>
<line x1="373.40" y1="764.00" x2="382.40" y2="764.00" stroke="#000000" stroke-width="2.3" stroke-linecap="butt"/>
<circle cx="377.90" cy="762.50" r="4.4" fill="#000000"/>
<line x1="415.50" y1="720.20" x2="415.50" y2="724.00" stroke="#000000" stroke-width="2.3" stroke-linecap="butt"/>
<line x1="411.00" y1="720.20" x2="420.00" y2="720.20" stroke="#000000" stroke-width="2.3" stroke-linecap="butt"/>
<line x1="411.00" y1="724.00" x2="420.00" y2="724.00" stroke="#000000" stroke-width="2.3" stroke-linecap="butt"/>
<circle cx="415.50" cy="722.10" r="4.4" fill="#000000"/>
<line x1="453.20" y1="614.20" x2="453.20" y2="627.10" stroke="#000000" stroke-width="2.3" stroke-linecap="butt"/>
<line x1="448.70" y1="614.20" x2="457.70" y2="614.20" stroke="#000000" stroke-width="2.3" stroke-linecap="butt"/>
<line x1="448.70" y1="627.10" x2="457.70" y2="627.10" stroke="#000000" stroke-width="2.3" stroke-linecap="butt"/>
<circle cx="453.20" cy="620.40" r="4.4" fill="#000000"/>
<path d="M302.50,717.10 L340.20,743.50 L377.90,762.00 L415.50,715.30 L453.20,538.10" fill="none" stroke="#ed1e26" stroke-width="2.3" stroke-linejoin="round"/>
<line x1="302.50" y1="713.20" x2="302.50" y2="721.00" stroke="#ed1e26" stroke-width="2.3" stroke-linecap="butt"/>
<line x1="298.00" y1="713.20" x2="307.00" y2="713.20" stroke="#ed1e26" stroke-width="2.3" stroke-linecap="butt"/>
<line x1="298.00" y1="721.00" x2="307.00" y2="721.00" stroke="#ed1e26" stroke-width="2.3" stroke-linecap="butt"/>
<circle cx="302.50" cy="717.10" r="4.4" fill="#ed1e26"/>
<line x1="340.20" y1="740.00" x2="340.20" y2="747.00" stroke="#ed1e26" stroke-width="2.3" stroke-linecap="butt"/>
<line x1="335.70" y1="740.00" x2="344.70" y2="740.00" stroke="#ed1e26" stroke-width="2.3" stroke-linecap="butt"/>
<line x1="335.70" y1="747.00" x2="344.70" y2="747.00" stroke="#ed1e26" stroke-width="2.3" stroke-linecap="butt"/>
<circle cx="340.20" cy="743.50" r="4.4" fill="#ed1e26"/>
<line x1="377.90" y1="760.00" x2="377.90" y2="764.00" stroke="#ed1e26" stroke-width="2.3" stroke-linecap="butt"/>
<line x1="373.40" y1="760.00" x2="382.40" y2="760.00" stroke="#ed1e26" stroke-width="2.3" stroke-linecap="butt"/>
<line x1="373.40" y1="764.00" x2="382.40" y2="764.00" stroke="#ed1e26" stroke-width="2.3" stroke-linecap="butt"/>
<circle cx="377.90" cy="762.00" r="4.4" fill="#ed1e26"/>
<line x1="415.50" y1="712.20" x2="415.50" y2="718.50" stroke="#ed1e26" stroke-width="2.3" stroke-linecap="butt"/>
<line x1="411.00" y1="712.20" x2="420.00" y2="712.20" stroke="#ed1e26" stroke-width="2.3" stroke-linecap="butt"/>
<line x1="411.00" y1="718.50" x2="420.00" y2="718.50" stroke="#ed1e26" stroke-width="2.3" stroke-linecap="butt"/>
<circle cx="415.50" cy="715.30" r="4.4" fill="#ed1e26"/>
<line x1="453.20" y1="530.90" x2="453.20" y2="545.20" stroke="#ed1e26" stroke-width="2.3" stroke-linecap="butt"/>
<line x1="448.70" y1="530.90" x2="457.70" y2="530.90" stroke="#ed1e26" stroke-width="2.3" stroke-linecap="butt"/>
<line x1="448.70" y1="545.20" x2="457.70" y2="545.20" stroke="#ed1e26" stroke-width="2.3" stroke-linecap="butt"/>
<circle cx="453.20" cy="538.10" r="4.4" fill="#ed1e26"/>
<line x1="539.20" y1="15.00" x2="539.20" y2="360.30" stroke="#000000" stroke-width="2.2" stroke-linecap="butt"/>
<line x1="538.10" y1="359.30" x2="681.40" y2="359.30" stroke="#000000" stroke-width="2.2" stroke-linecap="butt"/>
<line x1="531.00" y1="352.80" x2="539.20" y2="352.80" stroke="#000000" stroke-width="2.2" stroke-linecap="butt"/>
<text transform="translate(527.60,359.10) scale(1.0,1.08)" font-size="15.5" font-weight="normal" text-anchor="end" fill="#111111" >0.5</text>
<line x1="531.00" y1="274.40" x2="539.20" y2="274.40" stroke="#000000" stroke-width="2.2" stroke-linecap="butt"/>
<text transform="translate(527.60,280.70) scale(1.0,1.08)" font-size="15.5" font-weight="normal" text-anchor="end" fill="#111111" >0.6</text>
<line x1="531.00" y1="196.00" x2="539.20" y2="196.00" stroke="#000000" stroke-width="2.2" stroke-linecap="butt"/>
<text transform="translate(527.60,202.30) scale(1.0,1.08)" font-size="15.5" font-weight="normal" text-anchor="end" fill="#111111" >0.7</text>
<line x1="531.00" y1="117.60" x2="539.20" y2="117.60" stroke="#000000" stroke-width="2.2" stroke-linecap="butt"/>
<text transform="translate(527.60,123.90) scale(1.0,1.08)" font-size="15.5" font-weight="normal" text-anchor="end" fill="#111111" >0.8</text>
<line x1="531.00" y1="39.20" x2="539.20" y2="39.20" stroke="#000000" stroke-width="2.2" stroke-linecap="butt"/>
<text transform="translate(527.60,45.50) scale(1.0,1.08)" font-size="15.5" font-weight="normal" text-anchor="end" fill="#111111" >0.9</text>
<line x1="560.90" y1="359.30" x2="560.90" y2="367.50" stroke="#000000" stroke-width="2.2" stroke-linecap="butt"/>
<line x1="620.60" y1="359.30" x2="620.60" y2="367.50" stroke="#000000" stroke-width="2.2" stroke-linecap="butt"/>
<line x1="680.30" y1="359.30" x2="680.30" y2="367.50" stroke="#000000" stroke-width="2.2" stroke-linecap="butt"/>
<text transform="translate(560.60,384.90) scale(1.0,1.06)" font-size="15" font-weight="normal" text-anchor="middle" fill="#111111" >Within</text>
<text transform="translate(564.10,401.40) scale(1.0,1.06)" font-size="15" font-weight="normal" text-anchor="middle" fill="#111111" >PCs</text>
<text transform="translate(618.30,384.90) scale(1.0,1.06)" font-size="15" font-weight="normal" text-anchor="middle" fill="#111111" >Within</text>
<text transform="translate(621.00,401.40) scale(1.0,1.06)" font-size="15" font-weight="normal" text-anchor="middle" fill="#111111" >ITNs</text>
<text transform="translate(655.20,384.90) scale(1.0,1.06)" font-size="15" font-weight="normal" text-anchor="start" fill="#111111" >Bet.</text>
<line x1="538.70" y1="438.50" x2="538.70" y2="798.40" stroke="#000000" stroke-width="2.2" stroke-linecap="butt"/>
<line x1="537.60" y1="797.40" x2="680.20" y2="797.40" stroke="#000000" stroke-width="2.2" stroke-linecap="butt"/>
<line x1="530.50" y1="766.70" x2="538.70" y2="766.70" stroke="#000000" stroke-width="2.2" stroke-linecap="butt"/>
<text transform="translate(527.60,773.00) scale(1.0,1.08)" font-size="15.5" font-weight="normal" text-anchor="end" fill="#111111" >0.4</text>
<line x1="530.50" y1="688.30" x2="538.70" y2="688.30" stroke="#000000" stroke-width="2.2" stroke-linecap="butt"/>
<text transform="translate(527.60,694.60) scale(1.0,1.08)" font-size="15.5" font-weight="normal" text-anchor="end" fill="#111111" >0.5</text>
<line x1="530.50" y1="609.90" x2="538.70" y2="609.90" stroke="#000000" stroke-width="2.2" stroke-linecap="butt"/>
<text transform="translate(527.60,616.20) scale(1.0,1.08)" font-size="15.5" font-weight="normal" text-anchor="end" fill="#111111" >0.6</text>
<line x1="530.50" y1="531.50" x2="538.70" y2="531.50" stroke="#000000" stroke-width="2.2" stroke-linecap="butt"/>
<text transform="translate(527.60,537.80) scale(1.0,1.08)" font-size="15.5" font-weight="normal" text-anchor="end" fill="#111111" >0.7</text>
<line x1="530.50" y1="453.10" x2="538.70" y2="453.10" stroke="#000000" stroke-width="2.2" stroke-linecap="butt"/>
<text transform="translate(527.60,459.40) scale(1.0,1.08)" font-size="15.5" font-weight="normal" text-anchor="end" fill="#111111" >0.8</text>
<line x1="560.30" y1="797.40" x2="560.30" y2="805.60" stroke="#000000" stroke-width="2.2" stroke-linecap="butt"/>
<line x1="619.70" y1="797.40" x2="619.70" y2="805.60" stroke="#000000" stroke-width="2.2" stroke-linecap="butt"/>
<line x1="679.10" y1="797.40" x2="679.10" y2="805.60" stroke="#000000" stroke-width="2.2" stroke-linecap="butt"/>
<text transform="translate(560.00,823.90) scale(1.0,1.06)" font-size="15" font-weight="normal" text-anchor="middle" fill="#111111" >Within</text>
<text transform="translate(563.50,840.40) scale(1.0,1.06)" font-size="15" font-weight="normal" text-anchor="middle" fill="#111111" >PCs</text>
<text transform="translate(617.40,823.90) scale(1.0,1.06)" font-size="15" font-weight="normal" text-anchor="middle" fill="#111111" >Within</text>
<text transform="translate(620.10,840.40) scale(1.0,1.06)" font-size="15" font-weight="normal" text-anchor="middle" fill="#111111" >ITNs</text>
<text transform="translate(657.90,823.90) scale(1.0,1.06)" font-size="15" font-weight="normal" text-anchor="start" fill="#111111" >Bet.</text>
<text transform="translate(498.2,234.0) rotate(-90)" font-size="17.5" fill="#111111">Correlation</text>
<text transform="translate(498.0,651.1) rotate(-90)" font-size="17.5" fill="#111111">Correlation</text>
<line x1="560.90" y1="156.60" x2="560.90" y2="161.60" stroke="#44a2d8" stroke-width="2.3" stroke-linecap="butt"/>
<line x1="556.40" y1="156.60" x2="565.40" y2="156.60" stroke="#44a2d8" stroke-width="2.3" stroke-linecap="butt"/>
<line x1="556.40" y1="161.60" x2="565.40" y2="161.60" stroke="#44a2d8" stroke-width="2.3" stroke-linecap="butt"/>
<circle cx="560.90" cy="159.10" r="4.4" fill="#44a2d8"/>
<line x1="620.60" y1="81.00" x2="620.60" y2="94.10" stroke="#44a2d8" stroke-width="2.3" stroke-linecap="butt"/>
<line x1="616.10" y1="81.00" x2="625.10" y2="81.00" stroke="#44a2d8" stroke-width="2.3" stroke-linecap="butt"/>
<line x1="616.10" y1="94.10" x2="625.10" y2="94.10" stroke="#44a2d8" stroke-width="2.3" stroke-linecap="butt"/>
<circle cx="620.60" cy="87.40" r="4.4" fill="#44a2d8"/>
<line x1="680.30" y1="83.20" x2="680.30" y2="92.00" stroke="#44a2d8" stroke-width="2.3" stroke-linecap="butt"/>
<line x1="675.80" y1="83.20" x2="684.80" y2="83.20" stroke="#44a2d8" stroke-width="2.3" stroke-linecap="butt"/>
<line x1="675.80" y1="92.00" x2="684.80" y2="92.00" stroke="#44a2d8" stroke-width="2.3" stroke-linecap="butt"/>
<circle cx="680.30" cy="87.50" r="4.4" fill="#44a2d8"/>
<line x1="560.90" y1="347.40" x2="560.90" y2="350.60" stroke="#000000" stroke-width="2.3" stroke-linecap="butt"/>
<line x1="556.40" y1="347.40" x2="565.40" y2="347.40" stroke="#000000" stroke-width="2.3" stroke-linecap="butt"/>
<line x1="556.40" y1="350.60" x2="565.40" y2="350.60" stroke="#000000" stroke-width="2.3" stroke-linecap="butt"/>
<circle cx="560.90" cy="349.00" r="4.4" fill="#000000"/>
<line x1="620.60" y1="293.30" x2="620.60" y2="310.50" stroke="#000000" stroke-width="2.3" stroke-linecap="butt"/>
<line x1="616.10" y1="293.30" x2="625.10" y2="293.30" stroke="#000000" stroke-width="2.3" stroke-linecap="butt"/>
<line x1="616.10" y1="310.50" x2="625.10" y2="310.50" stroke="#000000" stroke-width="2.3" stroke-linecap="butt"/>
<circle cx="620.60" cy="301.90" r="4.4" fill="#000000"/>
<line x1="680.30" y1="320.60" x2="680.30" y2="331.60" stroke="#000000" stroke-width="2.3" stroke-linecap="butt"/>
<line x1="675.80" y1="320.60" x2="684.80" y2="320.60" stroke="#000000" stroke-width="2.3" stroke-linecap="butt"/>
<line x1="675.80" y1="331.60" x2="684.80" y2="331.60" stroke="#000000" stroke-width="2.3" stroke-linecap="butt"/>
<circle cx="680.30" cy="326.30" r="4.4" fill="#000000"/>
<line x1="560.90" y1="335.40" x2="560.90" y2="339.80" stroke="#ed1e26" stroke-width="2.3" stroke-linecap="butt"/>
<line x1="556.40" y1="335.40" x2="565.40" y2="335.40" stroke="#ed1e26" stroke-width="2.3" stroke-linecap="butt"/>
<line x1="556.40" y1="339.80" x2="565.40" y2="339.80" stroke="#ed1e26" stroke-width="2.3" stroke-linecap="butt"/>
<circle cx="560.90" cy="337.60" r="4.4" fill="#ed1e26"/>
<line x1="620.60" y1="274.50" x2="620.60" y2="293.20" stroke="#ed1e26" stroke-width="2.3" stroke-linecap="butt"/>
<line x1="616.10" y1="274.50" x2="625.10" y2="274.50" stroke="#ed1e26" stroke-width="2.3" stroke-linecap="butt"/>
<line x1="616.10" y1="293.20" x2="625.10" y2="293.20" stroke="#ed1e26" stroke-width="2.3" stroke-linecap="butt"/>
<circle cx="620.60" cy="283.90" r="4.4" fill="#ed1e26"/>
<line x1="680.30" y1="248.60" x2="680.30" y2="261.30" stroke="#ed1e26" stroke-width="2.3" stroke-linecap="butt"/>
<line x1="675.80" y1="248.60" x2="684.80" y2="248.60" stroke="#ed1e26" stroke-width="2.3" stroke-linecap="butt"/>
<line x1="675.80" y1="261.30" x2="684.80" y2="261.30" stroke="#ed1e26" stroke-width="2.3" stroke-linecap="butt"/>
<circle cx="680.30" cy="255.00" r="4.4" fill="#ed1e26"/>
<line x1="560.30" y1="636.00" x2="560.30" y2="641.50" stroke="#44a2d8" stroke-width="2.3" stroke-linecap="butt"/>
<line x1="555.80" y1="636.00" x2="564.80" y2="636.00" stroke="#44a2d8" stroke-width="2.3" stroke-linecap="butt"/>
<line x1="555.80" y1="641.50" x2="564.80" y2="641.50" stroke="#44a2d8" stroke-width="2.3" stroke-linecap="butt"/>
<circle cx="560.30" cy="638.80" r="4.4" fill="#44a2d8"/>
<line x1="619.70" y1="582.50" x2="619.70" y2="612.80" stroke="#44a2d8" stroke-width="2.3" stroke-linecap="butt"/>
<line x1="615.20" y1="582.50" x2="624.20" y2="582.50" stroke="#44a2d8" stroke-width="2.3" stroke-linecap="butt"/>
<line x1="615.20" y1="612.80" x2="624.20" y2="612.80" stroke="#44a2d8" stroke-width="2.3" stroke-linecap="butt"/>
<circle cx="619.70" cy="598.00" r="4.4" fill="#44a2d8"/>
<line x1="679.10" y1="618.70" x2="679.10" y2="632.30" stroke="#44a2d8" stroke-width="2.3" stroke-linecap="butt"/>
<line x1="674.60" y1="618.70" x2="683.60" y2="618.70" stroke="#44a2d8" stroke-width="2.3" stroke-linecap="butt"/>
<line x1="674.60" y1="632.30" x2="683.60" y2="632.30" stroke="#44a2d8" stroke-width="2.3" stroke-linecap="butt"/>
<circle cx="679.10" cy="625.50" r="4.4" fill="#44a2d8"/>
<line x1="560.30" y1="781.50" x2="560.30" y2="786.20" stroke="#000000" stroke-width="2.3" stroke-linecap="butt"/>
<line x1="555.80" y1="781.50" x2="564.80" y2="781.50" stroke="#000000" stroke-width="2.3" stroke-linecap="butt"/>
<line x1="555.80" y1="786.20" x2="564.80" y2="786.20" stroke="#000000" stroke-width="2.3" stroke-linecap="butt"/>
<circle cx="560.30" cy="783.90" r="4.4" fill="#000000"/>
<line x1="619.70" y1="730.20" x2="619.70" y2="745.00" stroke="#000000" stroke-width="2.3" stroke-linecap="butt"/>
<line x1="615.20" y1="730.20" x2="624.20" y2="730.20" stroke="#000000" stroke-width="2.3" stroke-linecap="butt"/>
<line x1="615.20" y1="745.00" x2="624.20" y2="745.00" stroke="#000000" stroke-width="2.3" stroke-linecap="butt"/>
<circle cx="619.70" cy="737.70" r="4.4" fill="#000000"/>
<line x1="679.10" y1="773.80" x2="679.10" y2="782.30" stroke="#000000" stroke-width="2.3" stroke-linecap="butt"/>
<line x1="674.60" y1="773.80" x2="683.60" y2="773.80" stroke="#000000" stroke-width="2.3" stroke-linecap="butt"/>
<line x1="674.60" y1="782.30" x2="683.60" y2="782.30" stroke="#000000" stroke-width="2.3" stroke-linecap="butt"/>
<circle cx="679.10" cy="777.90" r="4.4" fill="#000000"/>
<line x1="560.30" y1="449.00" x2="560.30" y2="454.00" stroke="#ed1e26" stroke-width="2.3" stroke-linecap="butt"/>
<line x1="555.80" y1="449.00" x2="564.80" y2="449.00" stroke="#ed1e26" stroke-width="2.3" stroke-linecap="butt"/>
<line x1="555.80" y1="454.00" x2="564.80" y2="454.00" stroke="#ed1e26" stroke-width="2.3" stroke-linecap="butt"/>
<circle cx="560.30" cy="451.50" r="4.4" fill="#ed1e26"/>
<line x1="619.70" y1="446.30" x2="619.70" y2="475.30" stroke="#ed1e26" stroke-width="2.3" stroke-linecap="butt"/>
<line x1="615.20" y1="446.30" x2="624.20" y2="446.30" stroke="#ed1e26" stroke-width="2.3" stroke-linecap="butt"/>
<line x1="615.20" y1="475.30" x2="624.20" y2="475.30" stroke="#ed1e26" stroke-width="2.3" stroke-linecap="butt"/>
<circle cx="619.70" cy="460.80" r="4.4" fill="#ed1e26"/>
<line x1="679.10" y1="450.50" x2="679.10" y2="462.60" stroke="#ed1e26" stroke-width="2.3" stroke-linecap="butt"/>
<line x1="674.60" y1="450.50" x2="683.60" y2="450.50" stroke="#ed1e26" stroke-width="2.3" stroke-linecap="butt"/>
<line x1="674.60" y1="462.60" x2="683.60" y2="462.60" stroke="#ed1e26" stroke-width="2.3" stroke-linecap="butt"/>
<circle cx="679.10" cy="456.50" r="4.4" fill="#ed1e26"/>
</svg>
</body></html>
